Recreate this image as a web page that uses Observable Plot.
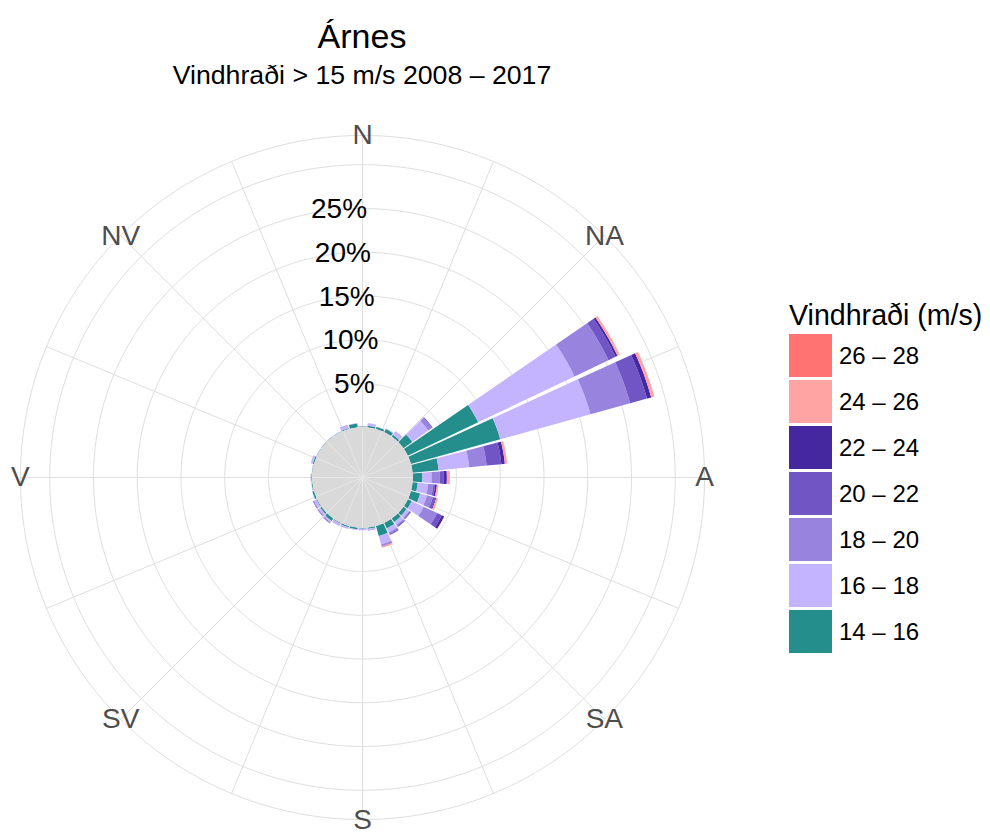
<!DOCTYPE html>
<html>
<head>
<meta charset="utf-8">
<script src="https://cdn.jsdelivr.net/npm/d3@7"></script>
<script src="https://cdn.jsdelivr.net/npm/@observablehq/plot@0.6"></script>
<style>
  body { margin: 0; background: #fff; font-family: "Liberation Sans", Arial, sans-serif; }
  #wrap { position: relative; width: 990px; height: 834px; overflow: hidden; }
  #title { position: absolute; left: 0; width: 724px; top: 19px; text-align: center; font-size: 34px; line-height: 34px; color: #000; }
  #subtitle { position: absolute; left: 0; width: 724px; top: 62px; text-align: center; font-size: 26.7px; line-height: 27px; color: #000; }
  #chart { position: absolute; left: 0; top: 115px; }
  #chart svg { overflow: visible; }
  #legend { position: absolute; left: 789px; top: 299px; }
  #legend .lt { font-size: 28.6px; line-height: 32px; margin-bottom: 3px; white-space: nowrap; }
  #legend .row { display: flex; align-items: center; height: 46px; }
  #legend .key { width: 43px; height: 43px; margin-bottom: 3px; }
  #legend .lab { font-size: 24px; margin-left: 7px; margin-bottom: 3px; white-space: nowrap; }
</style>
</head>
<body>
<div id="wrap">
  <div id="title"></div>
  <div id="subtitle"></div>
  <div id="chart"></div>
  <div id="legend"></div>
</div>
<script>
// ---------- data ----------
const titleText = "Árnes";
const subtitleText = "Vindhraði > 15 m/s 2008 – 2017";
const legendTitle = "Vindhraði (m/s)";

const directions = [0,10,20,30,40,50,60,70,80,90,100,110,120,130,140,150,160,170,180,190,200,210,220,230,240,250,260,270,280,290,300,310,320,330,340,350];

const speedClasses = ["14 – 16","16 – 18","18 – 20","20 – 22","22 – 24","24 – 26","26 – 28"];
const speedColors  = ["#248e8c","#c4b3fe","#9883df","#7055c4","#4527a0","#ffa3a3","#ff7373"];

// percentage of observations per direction for each speed class
const s14_16 = [0.10,0.20,0.25,0.40,0.25,1.25,8.90,10.60,3.00,1.10,0.60,1.10,0.50,0.45,0.50,0.70,1.20,0.15,0.10,0.20,0.15,0.10,0.35,0.20,0.10,0.20,0.10,0.10,0.05,0.15,0.05,0.05,0.05,0.05,0.10,0.45];
const s16_18 = [0.05,0.30,0.05,0.10,0.45,2.25,12.20,10.70,3.50,1.05,1.20,0.80,1.50,0.35,0.40,0.50,1.00,0.15,0.20,0.10,0.15,0.25,0.20,0.25,0.30,0.05,0.05,0.10,0.05,0.20,0.05,0.05,0.05,0.05,0.35,0.05];
const s18_20 = [0,0,0,0,0.05,0.50,4.30,4.70,2.00,0.95,0.60,0.70,1.70,0.10,0.15,0.20,0.20,0.05,0,0,0.05,0.05,0.10,0.10,0.10,0,0,0,0,0.03,0,0,0,0,0.05,0];
const s20_22 = [0,0,0,0,0,0.10,0.90,2.00,1.70,0.45,0.20,0.30,0.60,0.10,0.10,0.10,0.05,0,0,0,0,0,0.05,0.05,0.05,0,0,0,0,0,0,0,0,0,0,0];
const s22_24 = [0,0,0,0,0,0,0.25,0.50,0.40,0.35,0.20,0.10,0.30,0.05,0.05,0.05,0,0,0,0,0,0,0,0,0,0,0,0,0,0,0,0,0,0,0,0];
const s24_26 = [0,0,0,0,0,0,0.25,0.30,0.20,0.30,0.20,0.15,0.05,0,0,0,0.15,0,0,0,0,0,0,0,0,0,0,0,0,0,0,0,0,0,0,0];
const s26_28 = [0,0,0,0,0,0,0.03,0.05,0.05,0.05,0,0.05,0,0,0,0,0,0,0,0,0,0,0,0,0,0,0,0,0,0,0,0,0,0,0,0];

const compassLabels = ["N","NA","A","SA","S","SV","V","NV"];
const compassAngles = [0,45,90,135,180,225,270,315];
const pctTicks = [5,10,15,20,25,30];
const pctLabels = [5,10,15,20,25];

// ---------- geometry helpers (polar layout via Plot's azimuthal projection) ----------
const K = 0.1;            // degrees of colatitude per radial unit
const HOLE = 5.743;       // inner hole, radial units
const OUTER = 39.09;      // outer ring / label radius, radial units (from centre)
const FRAME = 41.371;     // half frame, radial units
const BARW = 9;           // bar angular width (degrees)
const lonOf = d => 180 - d;
const latOf = p => 90 - (HOLE + p) * K;

const series = [s14_16, s16_18, s18_20, s20_22, s22_24, s24_26, s26_28];
const segments = [];
directions.forEach((dir, i) => {
  let acc = 0;
  series.forEach((arr, j) => {
    const v = arr[i];
    if (v > 0) segments.push({dir, cls: speedClasses[j], p0: acc, p1: acc + v});
    acc += v;
  });
});

function wedge(s) {
  const a0 = s.dir - BARW / 2, a1 = s.dir + BARW / 2, n = 18, ring = [];
  for (let j = 0; j <= n; j++) ring.push([lonOf(a0 + (a1 - a0) * j / n), latOf(s.p1)]);
  for (let j = n; j >= 0; j--) ring.push([lonOf(a0 + (a1 - a0) * j / n), latOf(s.p0)]);
  ring.push(ring[0]);
  return {type: "Polygon", coordinates: [ring]};
}
const circleGeom = p => d3.geoCircle().center([0, 90]).radius((HOLE + p) * K).precision(0.5)();
const outerGeom = () => d3.geoCircle().center([0, 90]).radius(OUTER * K).precision(0.5)();

const spokeAngles = d3.range(0, 360, 22.5);

const chart = Plot.plot({
  width: 724,
  height: 724,
  margin: 0,
  style: {fontFamily: '"Liberation Sans", Arial, sans-serif', background: "transparent"},
  projection: {
    type: "azimuthal-equidistant",
    rotate: [0, -90],
    clip: false,
    domain: d3.geoCircle().center([0, 90]).radius(FRAME * K).precision(1)()
  },
  color: {domain: speedClasses, range: speedColors},
  marks: [
    Plot.geo(pctTicks, {geometry: circleGeom, stroke: "#dedede", strokeWidth: 1, fill: "none"}),
    Plot.geo([0], {geometry: outerGeom, stroke: "#dedede", strokeWidth: 1, fill: "none"}),
    Plot.link(spokeAngles, {x1: d => lonOf(d), y1: 90 - OUTER * K, x2: d => lonOf(d), y2: 90, stroke: "#dedede", strokeWidth: 1}),
    Plot.geo(segments, {geometry: wedge, fill: "cls"}),
    Plot.geo([0], {geometry: circleGeom, fill: "#d9d9d9", stroke: "none"}),
    Plot.link(spokeAngles, {x1: d => lonOf(d), y1: latOf(0), x2: d => lonOf(d), y2: 90, stroke: "#e6e6e6", strokeWidth: 1}),
    Plot.text(pctLabels, {x: lonOf(355), y: p => latOf(p), text: p => p + "%", fontSize: 28, fill: "#000", textAnchor: "middle"}),
    Plot.text(compassLabels, {x: (d, i) => lonOf(compassAngles[i]), y: 90 - OUTER * K, text: d => d, fontSize: 28, fill: "#4d4d4d", textAnchor: "middle"})
  ]
});
document.getElementById("chart").appendChild(chart);
document.getElementById("title").textContent = titleText;
document.getElementById("subtitle").textContent = subtitleText;

// legend (top = highest class)
const leg = document.getElementById("legend");
const lt = document.createElement("div"); lt.className = "lt"; lt.textContent = legendTitle; leg.appendChild(lt);
speedClasses.slice().reverse().forEach((c, i) => {
  const row = document.createElement("div"); row.className = "row";
  const key = document.createElement("div"); key.className = "key";
  key.style.background = speedColors[speedClasses.length - 1 - i];
  const lab = document.createElement("div"); lab.className = "lab"; lab.textContent = c;
  row.appendChild(key); row.appendChild(lab); leg.appendChild(row);
});
</script>
</body>
</html>
